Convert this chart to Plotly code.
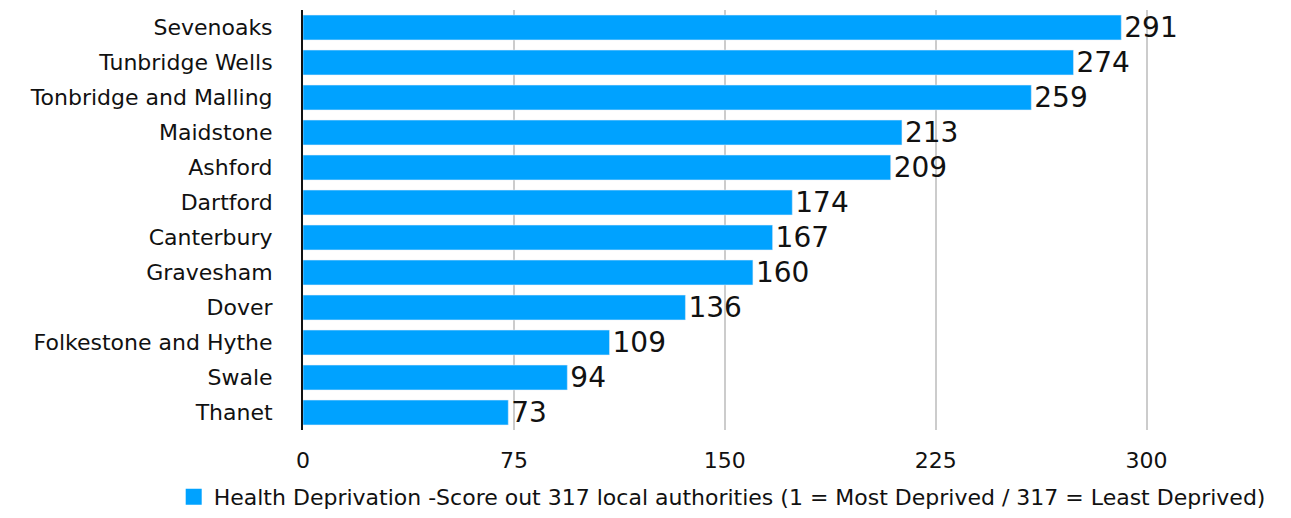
import plotly.graph_objects as go

districts = [
    "Sevenoaks", "Tunbridge Wells", "Tonbridge and Malling", "Maidstone",
    "Ashford", "Dartford", "Canterbury", "Gravesham", "Dover",
    "Folkestone and Hythe", "Swale", "Thanet",
]
scores = [291, 274, 259, 213, 209, 174, 167, 160, 136, 109, 94, 73]
tick_vals = [0, 75, 150, 225, 300]
series_name = ("Health Deprivation -Score out 317 local authorities "
               "(1 = Most Deprived / 317 = Least Deprived)")

FONT = "DejaVu Sans, sans-serif"
BLUE = "#00A2FF"

fig = go.Figure()
fig.add_trace(
    go.Bar(
        y=districts,
        x=scores,
        orientation="h",
        marker_color=BLUE,
        width=0.71,
        text=scores,
        textposition="outside",
        constraintext="none",
        textfont=dict(size=28, color="#111111", family=FONT),
        cliponaxis=False,
        showlegend=False,
    )
)
# legend entry with a larger square swatch
fig.add_trace(
    go.Scatter(
        x=[None], y=[None], mode="markers", name=series_name,
        marker=dict(symbol="square", size=20, color=BLUE),
    )
)

fig.update_layout(
    width=1291,
    height=518,
    margin=dict(l=303, r=1, t=10, b=88),
    plot_bgcolor="white",
    paper_bgcolor="white",
    font=dict(family=FONT, size=22, color="#111111"),
    showlegend=True,
    legend=dict(
        orientation="h",
        x=-0.131,
        xanchor="left",
        yref="container",
        y=0.0,
        yanchor="bottom",
        font=dict(size=22),
        itemsizing="trace",
    ),
    xaxis=dict(
        range=[0, 351],
        tickvals=tick_vals,
        showgrid=True,
        gridcolor="#cccccc",
        gridwidth=1.5,
        zeroline=False,
        showline=False,
        ticks="outside",
        ticklen=11,
        tickcolor="rgba(0,0,0,0)",
        tickfont=dict(size=22),
        automargin=False,
    ),
    yaxis=dict(
        autorange="reversed",
        showline=True,
        linecolor="#111111",
        linewidth=2,
        ticks="outside",
        ticklen=24,
        tickcolor="rgba(0,0,0,0)",
        tickfont=dict(size=22),
        automargin=False,
    ),
)

fig.write_html(
    "out.html",
    config={"displayModeBar": False},
    post_script=(
        "document.documentElement.style.overflow='hidden';"
        "document.body.style.margin='0';"
        "document.body.style.overflow='hidden';"
    ),
)
